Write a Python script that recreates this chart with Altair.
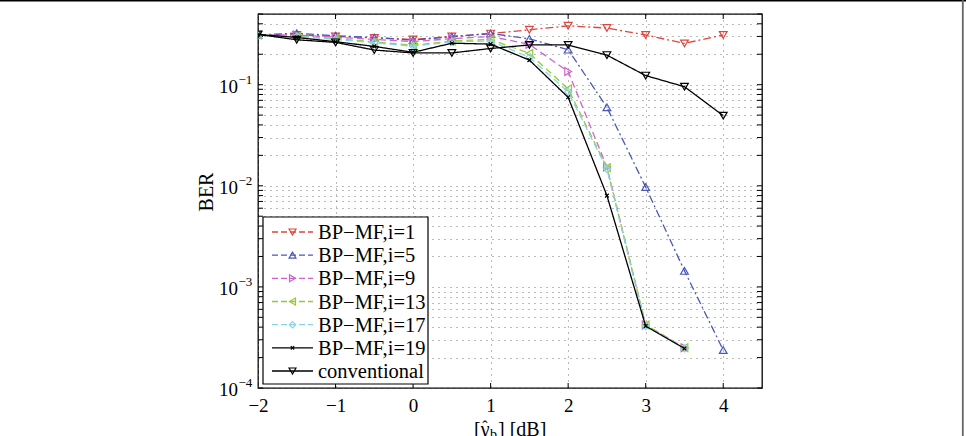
import altair as alt
import pandas as pd

# ---------------- data ----------------
x_vals = [-2, -1.5, -1, -0.5, 0, 0.5, 1, 1.5, 2, 2.5, 3, 3.5, 4]

ber_i1 = [0.31, 0.31, 0.30, 0.29, 0.28, 0.30, 0.32, 0.349, 0.382, 0.363, 0.310, 0.256, 0.31]
ber_i5 = [0.31, 0.323, 0.305, 0.293, 0.276, 0.298, 0.321, 0.284, 0.222, 0.0597, 0.0097, 0.00144, 0.000237]
ber_i9 = [0.31, 0.31, 0.295, 0.28, 0.267, 0.285, 0.30, 0.25, 0.135, 0.0153, 0.00042, 0.00025]
ber_i13 = [0.31, 0.30, 0.285, 0.265, 0.245, 0.27, 0.28, 0.204, 0.0907, 0.0151, 0.00042, 0.00025]
ber_i17 = [0.31, 0.30, 0.28, 0.26, 0.24, 0.265, 0.27, 0.186, 0.085, 0.0147, 0.00041, 0.000246]
ber_i19 = [0.314, 0.293, 0.266, 0.239, 0.209, 0.257, 0.252, 0.175, 0.075, 0.008, 0.00041, 0.000246]
ber_conv = [0.314, 0.278, 0.262, 0.220, 0.206, 0.206, 0.228, 0.247, 0.247, 0.196, 0.123, 0.0955, 0.0494]

labels = ["BP\u2212MF,i=1", "BP\u2212MF,i=5", "BP\u2212MF,i=9", "BP\u2212MF,i=13",
          "BP\u2212MF,i=17", "BP\u2212MF,i=19", "conventional"]
x_ticks = [-2, -1, 0, 1, 2, 3, 4]
y_major = [1e-4, 1e-3, 1e-2, 1e-1]
y_sup = ["\u22124", "\u22123", "\u22122", "\u22121"]
y_minor = [k * 10.0 ** e for e in range(-4, 0) for k in range(2, 10) if k * 10.0 ** e <= 0.5]

# ---------------- styles ----------------
X_SHAPE = "M-1,-1L1,1M-1,1L1,-1"
series = [
    dict(name=labels[0], vals=ber_i1, color="#e0463c", dash=[8, 3, 2, 3], shape="triangle-down", size=60),
    dict(name=labels[1], vals=ber_i5, color="#4a58b8", dash=[8, 3, 2, 3], shape="triangle-up", size=60),
    dict(name=labels[2], vals=ber_i9, color="#d062cc", dash=[7, 4], shape="triangle-right", size=60),
    dict(name=labels[3], vals=ber_i13, color="#92cc30", dash=[7, 4], shape="triangle-left", size=60),
    dict(name=labels[4], vals=ber_i17, color="#86d4e6", dash=[7, 4], shape="diamond", size=50),
    dict(name=labels[5], vals=ber_i19, color="#000000", dash=[1, 0], shape=X_SHAPE, size=14),
    dict(name=labels[6], vals=ber_conv, color="#000000", dash=[1, 0], shape="triangle-down", size=60),
]

FONT = "Liberation Serif"
W, H = 504, 374

xscale = alt.Scale(domain=[-2, 4.5], nice=False, zero=False)
yscale = alt.Scale(type="log", domain=[1e-4, 0.5], nice=False)
x_axis = alt.Axis(values=x_ticks, grid=True, gridDash=[1, 5], gridColor="#666", gridWidth=0.9,
                  ticks=False, domain=False, labelFont=FONT, labelFontSize=19, labelColor="black",
                  labelPadding=8, title=None, labelFlush=False)
y_axis = alt.Axis(values=y_major + y_minor, grid=True, gridDash=[1, 5], gridColor="#666", gridWidth=0.9,
                  ticks=False, domain=False, labels=False, title=None)


def X(field="x"):
    return alt.X(f"{field}:Q", scale=xscale, axis=x_axis)


def Y(field="ber"):
    return alt.Y(f"{field}:Q", scale=yscale, axis=y_axis)


layers = []

# inner ticks (MATLAB box style)
ytick_df = pd.DataFrame({"ber": y_major + y_minor})
xtick_df = pd.DataFrame({"x": x_ticks[1:]})
layers.append(alt.Chart(ytick_df).mark_rule(color="black", strokeWidth=1).encode(
    y=Y(), x=alt.value(0), x2=alt.value(5)))
layers.append(alt.Chart(ytick_df).mark_rule(color="black", strokeWidth=1).encode(
    y=Y(), x=alt.value(W - 5), x2=alt.value(W)))
layers.append(alt.Chart(xtick_df).mark_rule(color="black", strokeWidth=1).encode(
    x=X(), y=alt.value(H - 5), y2=alt.value(H)))
layers.append(alt.Chart(xtick_df).mark_rule(color="black", strokeWidth=1).encode(
    x=X(), y=alt.value(0), y2=alt.value(5)))

# curves
for s in series:
    df = pd.DataFrame({"x": x_vals[:len(s["vals"])], "ber": s["vals"]})
    layers.append(alt.Chart(df).mark_line(color=s["color"], strokeDash=s["dash"], strokeWidth=1.3,
                                          clip=True).encode(x=X(), y=Y()))
    layers.append(alt.Chart(df).mark_point(shape=s["shape"], size=s["size"], color=s["color"], filled=False,
                                           strokeWidth=1.2, opacity=1, clip=True).encode(x=X(), y=Y()))

# y tick labels 10^n
ylab_df = pd.DataFrame({"ber": y_major, "sup": y_sup})
layers.append(alt.Chart(ylab_df).mark_text(align="right", baseline="middle", font=FONT, fontSize=19,
                                           dy=2, color="black").encode(
    y=Y(), x=alt.value(-20), text=alt.value("10")))
layers.append(alt.Chart(ylab_df).mark_text(align="left", baseline="middle", font=FONT, fontSize=13,
                                           dy=-5, color="black").encode(
    y=Y(), x=alt.value(-19.5), text="sup:N"))

one = alt.Data(values=[{"a": 1}])

# axis titles
layers.append(alt.Chart(one).mark_text(font=FONT, fontSize=20, angle=270, baseline="middle",
                                       align="center", color="black").encode(
    x=alt.value(-51), y=alt.value(178), text=alt.value("BER")))
# x title: [γ̂_b] [dB]
layers.append(alt.Chart(one).mark_text(font=FONT, fontSize=20, baseline="top", align="left",
                                       color="black").encode(
    x=alt.value(216), y=alt.value(406), text=alt.value("[\u03b3")))
layers.append(alt.Chart(one).mark_text(font=FONT, fontSize=16, baseline="top", align="center",
                                       color="black").encode(
    x=alt.value(227), y=alt.value(405), text=alt.value("\u02c6")))
layers.append(alt.Chart(one).mark_text(font=FONT, fontSize=14, baseline="top", align="left",
                                       color="black").encode(
    x=alt.value(232), y=alt.value(414), text=alt.value("b")))
layers.append(alt.Chart(one).mark_text(font=FONT, fontSize=20, baseline="top", align="left",
                                       color="black").encode(
    x=alt.value(240), y=alt.value(406), text=alt.value("] [dB]")))

# legend
LX0, LX1, LY0, LY1 = 5, 170, 203, 370
layers.append(alt.Chart(one).mark_rect(fill="white", stroke="black", strokeWidth=1.2).encode(
    x=alt.value(LX0), x2=alt.value(LX1), y=alt.value(LY0), y2=alt.value(LY1)))
for i, s in enumerate(series):
    yy = 218 + 23.17 * i
    layers.append(alt.Chart(one).mark_rule(color=s["color"], strokeDash=[6, 3] if s["dash"] != [1, 0] else [1, 0],
                                           strokeWidth=1.3).encode(
        x=alt.value(14), x2=alt.value(55), y=alt.value(yy)))
    layers.append(alt.Chart(one).mark_point(shape=s["shape"], size=s["size"] * 0.8, color=s["color"],
                                            filled=False, strokeWidth=1.2, opacity=1).encode(
        x=alt.value(34.5), y=alt.value(yy)))
    layers.append(alt.Chart(one).mark_text(align="left", baseline="middle", font=FONT, fontSize=20.5,
                                           color="black").encode(
        x=alt.value(60), y=alt.value(yy + 1), text=alt.value(s["name"])))

# page frame (top and right edges)
layers.append(alt.Chart(one).mark_rule(color="black", strokeWidth=1.6).encode(
    x=alt.value(-258), x2=alt.value(708), y=alt.value(-13.3)))
layers.append(alt.Chart(one).mark_rule(color="#666", strokeWidth=1.8).encode(
    x=alt.value(704.8), y=alt.value(-14), y2=alt.value(422)))

chart = alt.layer(*layers).properties(
    width=W, height=H,
    autosize=alt.AutoSizeParams(type="none"),
    padding={"left": 258, "top": 14, "right": 204, "bottom": 48},
    background="white",
).configure_view(stroke="black", strokeWidth=1.3)

chart.save("out.html", embed_options={"renderer": "svg", "actions": False})
